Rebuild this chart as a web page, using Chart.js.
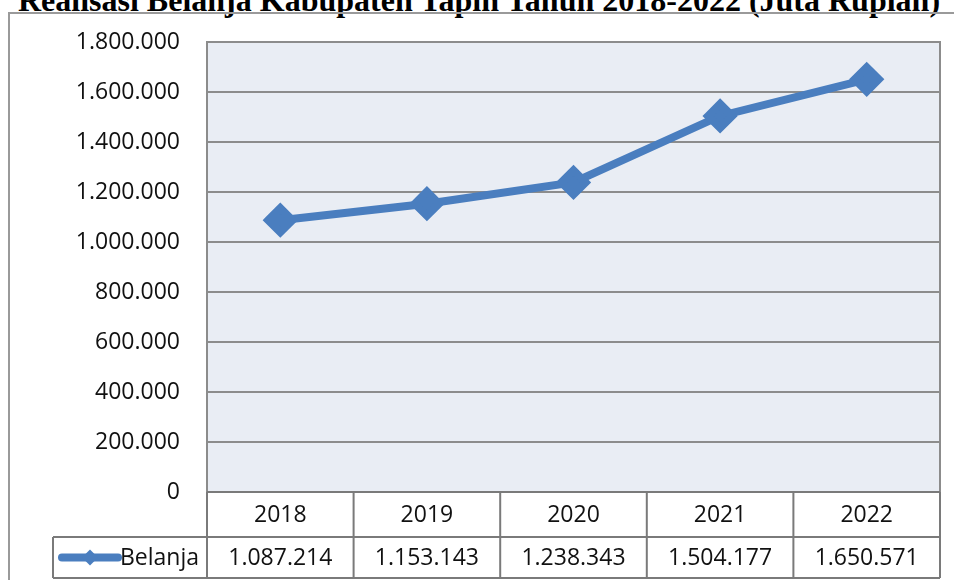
<!DOCTYPE html>
<html>
<head>
<meta charset="utf-8">
<script src="https://cdn.jsdelivr.net/npm/chart.js@4/dist/chart.umd.min.js"></script>
<style>
  html, body { margin: 0; padding: 0; background: #ffffff; overflow: hidden; }
  #wrap { position: relative; width: 954px; height: 580px; }
  #title {
    position: absolute; left: 2px; width: 954px; top: -18px; line-height: 32px;
    text-align: center; font: bold 32px "Liberation Serif", "DejaVu Serif", serif;
    color: #000; white-space: nowrap;
  }
  canvas { position: absolute; left: 0; top: 0; }
</style>
</head>
<body>
<div id="wrap">
  <div id="title">Realisasi Belanja Kabupaten Tapin Tahun 2018-2022 (Juta Rupiah)</div>
  <canvas id="chart" width="954" height="580"></canvas>
</div>
<script>
var years = ['2018', '2019', '2020', '2021', '2022'];
var belanja = [1087214, 1153143, 1238343, 1504177, 1650571];
var seriesName = 'Belanja';
var yTicks = [0, 200000, 400000, 600000, 800000, 1000000, 1200000, 1400000, 1600000, 1800000];

var lineColor = '#4a7ebf';
var gridColor = '#8c8c8c';
var fontFamily = '"Open Sans", Lato, sans-serif';
var labelFont = '23px ' + fontFamily;

function fmt(v) {
    return String(v).replace(/\B(?=(\d{3})+(?!\d))/g, '.');
}

// frame, plot border and data table under the plot
var tablePlugin = {
    id: 'dataTable',
    beforeDraw: function (chart) {
        var ctx = chart.ctx, a = chart.chartArea;
        ctx.save();
        ctx.fillStyle = '#e9edf4';
        ctx.fillRect(a.left, a.top, a.right - a.left, a.bottom - a.top);
        ctx.restore();
    },
    afterDraw: function (chart) {
        var ctx = chart.ctx, a = chart.chartArea, x = chart.scales.x;
        var rowH1 = 45, rowH2 = 41;
        var top = a.bottom, mid = a.bottom + rowH1, bot = mid + rowH2;
        var legendLeft = 53;
        var step = (a.right - a.left) / years.length;
        ctx.save();

        // outer chart frame
        ctx.strokeStyle = '#9a9a9a';
        ctx.lineWidth = 2;
        ctx.beginPath();
        ctx.moveTo(9, 580);
        ctx.lineTo(9, 13);
        ctx.lineTo(954, 13);
        ctx.stroke();

        // plot border
        ctx.strokeStyle = gridColor;
        ctx.strokeRect(a.left, a.top, a.right - a.left, a.bottom - a.top);

        // table lines
        ctx.strokeStyle = '#7a7a7a';
        ctx.beginPath();
        ctx.moveTo(a.left, top); ctx.lineTo(a.right, top);
        ctx.moveTo(legendLeft, mid); ctx.lineTo(a.right, mid);
        ctx.moveTo(legendLeft, bot); ctx.lineTo(a.right, bot);
        ctx.moveTo(legendLeft, mid); ctx.lineTo(legendLeft, bot);
        for (var i = 0; i <= years.length; i++) {
            var bx = a.left + step * i;
            ctx.moveTo(bx, top); ctx.lineTo(bx, bot);
        }
        ctx.stroke();

        // text
        ctx.fillStyle = '#111';
        ctx.font = labelFont;
        ctx.textAlign = 'center';
        ctx.textBaseline = 'middle';
        years.forEach(function (y, i) {
            var cx = x.getPixelForValue(i);
            ctx.fillText(y, cx, top + rowH1 / 2 + 1);
            ctx.fillText(fmt(belanja[i]), cx, mid + rowH2 / 2 + 1);
        });

        // legend key
        var ky = mid + rowH2 / 2;
        ctx.strokeStyle = lineColor;
        ctx.lineWidth = 8;
        ctx.lineCap = 'round';
        ctx.beginPath();
        ctx.moveTo(62, ky); ctx.lineTo(118, ky);
        ctx.stroke();
        ctx.fillStyle = lineColor;
        ctx.beginPath();
        ctx.moveTo(90, ky - 8); ctx.lineTo(98, ky); ctx.lineTo(90, ky + 8); ctx.lineTo(82, ky);
        ctx.closePath();
        ctx.fill();
        ctx.fillStyle = '#111';
        ctx.textAlign = 'left';
        ctx.fillText(seriesName, 120, ky + 1);
        ctx.restore();
    }
};

new Chart(document.getElementById('chart').getContext('2d'), {
    type: 'line',
    data: {
        labels: years,
        datasets: [{
            label: seriesName,
            data: belanja,
            borderColor: lineColor,
            backgroundColor: lineColor,
            borderWidth: 8,
            pointStyle: 'rectRot',
            pointRadius: 12,
            pointHoverRadius: 12,
            tension: 0
        }]
    },
    options: {
        responsive: false,
        animation: false,
        layout: { autoPadding: false, padding: { top: 42, bottom: 88, right: 14, left: 0 } },
        plugins: { legend: { display: false }, tooltip: { enabled: false } },
        scales: {
            x: { display: false, offset: true },
            y: {
                min: 0,
                max: 1800000,
                afterBuildTicks: function (scale) {
                    scale.ticks = yTicks.map(function (v) { return { value: v }; });
                },
                afterFit: function (scale) { scale.width = 207; },
                border: { display: false },
                grid: { color: gridColor, lineWidth: 2, drawTicks: false },
                ticks: {
                    color: '#111',
                    font: { family: fontFamily, size: 23 },
                    padding: 27,
                    callback: function (v) { return fmt(v); }
                }
            }
        }
    },
    plugins: [tablePlugin]
});
</script>
</body>
</html>
